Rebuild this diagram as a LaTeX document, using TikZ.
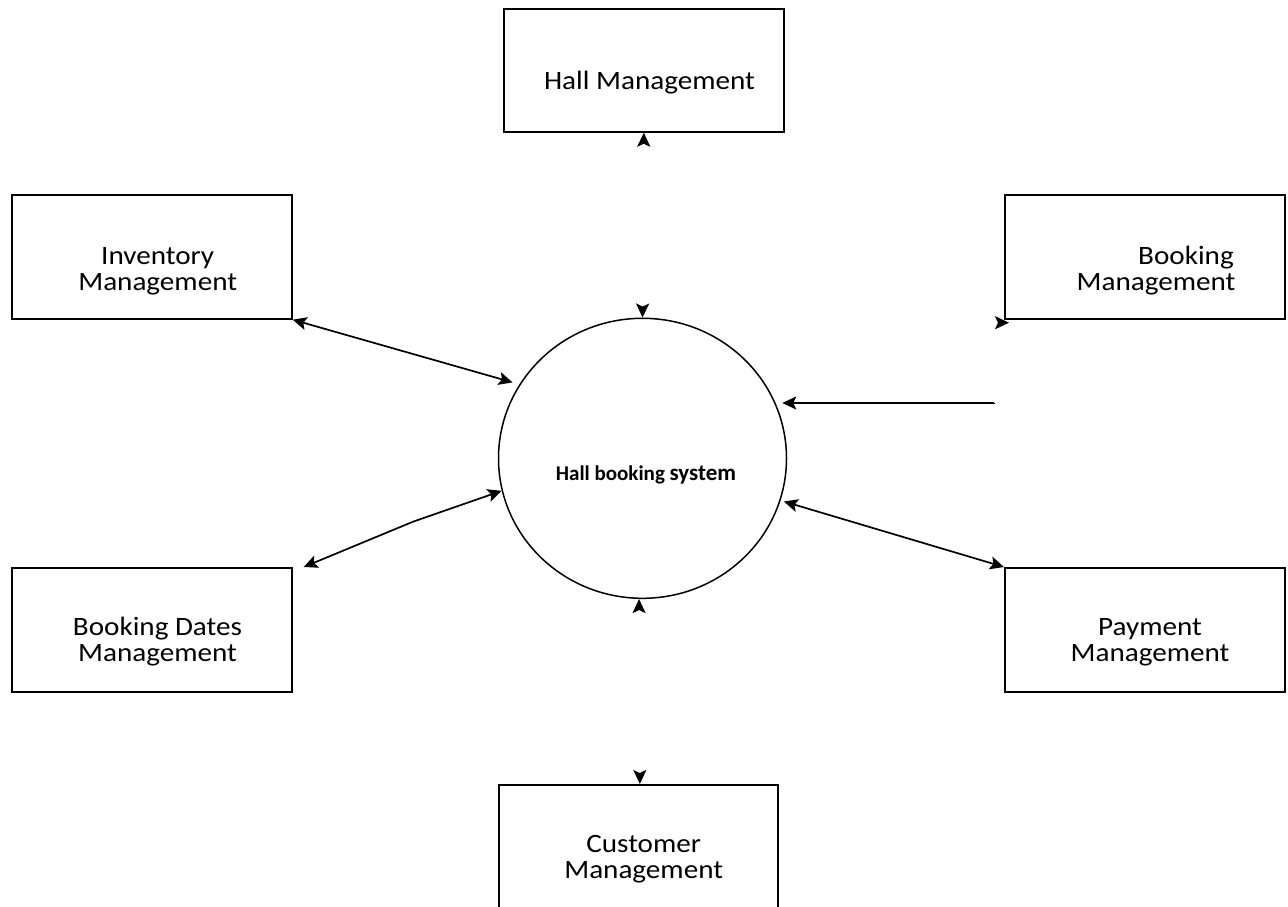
\documentclass[tikz,border=0pt]{standalone}
\usepackage{fontspec}
\setmainfont{Carlito}
\newfontfamily\boxfont{Carlito}[FakeStretch=1.1]
\usetikzlibrary{arrows.meta,calc,shapes.geometric}
\begin{document}
\begin{tikzpicture}[x=1pt,y=-1pt,
  >={Stealth[length=14pt,width=13pt,inset=3pt]},
  box/.style={draw, line width=1.7pt, minimum width=280pt, minimum height=124pt,
              inner sep=0pt, anchor=north west},
  lbl/.style={font=\boxfont\fontsize{26.5}{26}\selectfont, align=center,
              inner sep=0pt, anchor=base},
  link/.style={line width=1.7pt},
  ghost/.style={draw=white, line width=1.7pt,
                >={Stealth[length=14pt,width=13pt,inset=3pt,color=black]}}]

\useasboundingbox (0,0) rectangle (1288,906);

% surrounding management modules
\node[box, minimum height=123pt] (hall) at (503,8) {};
\node[box] (inv)  at (11,194)   {};
\node[box] (bkm)  at (1004,194) {};
\node[box] (bdt)  at (11,567)   {};
\node[box] (pay)  at (1004,567) {};
\node[box, minimum width=279pt, minimum height=140pt] (cust) at (498,784) {};

% module names (anchored on the baseline of the last line)
\node[lbl] (hallT) at (649.5,89.3) {Hall Management};
\node[lbl] (invT)  at (157.7,290)  {Inventory\\Management};
\node[lbl] (bkmT)  at (1156,290)   {\hspace*{60pt}Booking\\Management};
\node[lbl] (bdtT)  at (157.5,661)  {Booking Dates\\Management};
\node[lbl] (payT)  at (1150,661)   {Payment\\Management};
\node[lbl] (custT) at (643.7,878)  {Customer\\Management};

% central process
\node[ellipse, draw, line width=1.5pt, minimum width=288pt, minimum height=280pt,
      inner sep=0pt] (sys) at (642.5,458.3) {};
\node[inner sep=0pt, font=\bfseries] (sysT) at (646,475)
  {\fontsize{21}{24}\selectfont Hall booking \fontsize{23}{24}\selectfont system};

% data flows
\draw[link, <->, shorten >=7pt] (inv.south east) -- (sys.149.7);
\coordinate (bdtEnd) at ($(bdt.north east)+(11,0)$);
\coordinate (bdtBend) at (413,521.7);
\draw[link, <->] (bdtEnd) -- (bdtBend) -- (sys.193.3);
\draw[link, <->, shorten <=3.5pt] (sys.-17.8) -- (pay.north west);
\coordinate (bkSrc) at (995,403);
\coordinate (bkEnd) at ($(bkSrc -| sys.east)+(-5,0)$);
\draw[link, ->] (bkSrc) -- (bkEnd);
\draw[ghost, ->] (bkSrc) |- ($(bkm.south west)+(5,3)$);
\draw[ghost, <->] (hall.south) -- (sys.north);
\draw[ghost, <->] ($(sys.south)+(-3.5,0)$) -- ($(cust.north)+(1.5,0)$);
\end{tikzpicture}
\end{document}
